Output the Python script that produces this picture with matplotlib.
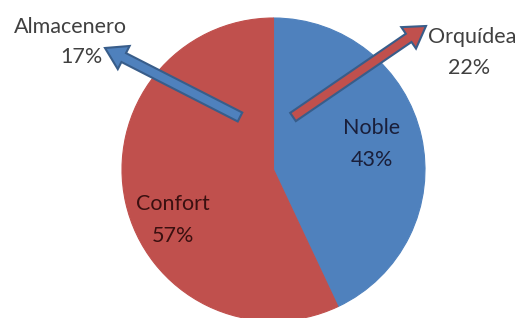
import matplotlib.pyplot as plt
from matplotlib.patches import FancyArrow

# data
labels = ['Noble', 'Confort']
values = [43, 57]
colors = ['#4F81BD', '#C0504D']
extra_labels = ['Almacenero', 'Orquídea']
extra_values = [17, 22]
extra_colors = ['#4F81BD', '#C0504D']

plt.rcParams['font.family'] = ['Lato', 'DejaVu Sans']

W, H = 521, 318
fig = plt.figure(figsize=(W / 100, H / 100), dpi=100)
ax = fig.add_axes([0, 0, 1, 1])

cx, cy, r = 273.5, H - 169.5, 151.5
wedges, _ = ax.pie(values, colors=colors, startangle=90, counterclock=False,
                   center=(cx, cy), radius=r, frame=True)
for w, c in zip(wedges, colors):
    w.set_edgecolor(c)
    w.set_linewidth(0.8)
ax.set_xlim(0, W)
ax.set_ylim(0, H)
ax.set_aspect('equal')
ax.axis('off')

fs = 15.5
# slice labels
ax.text(372, H - 128, labels[0], ha='center', va='center', fontsize=fs, color='#1a1f3a')
ax.text(372, H - 160, '%d%%' % values[0], ha='center', va='center', fontsize=fs, color='#1a1f3a')
ax.text(173, H - 204, labels[1], ha='center', va='center', fontsize=fs, color='#3a1010')
ax.text(173, H - 236, '%d%%' % values[1], ha='center', va='center', fontsize=fs, color='#3a1010')

# arrows pointing to the outside labels
arrows = [((240, 117), (105, 48)), ((293, 117), (426, 26))]
for (t, h), col in zip(arrows, extra_colors):
    x0, y0 = t[0], H - t[1]
    x1, y1 = h[0], H - h[1]
    a = FancyArrow(x0, y0, x1 - x0, y1 - y0, width=10, head_width=26, head_length=21,
                   length_includes_head=True, facecolor=col, edgecolor='#385D8A', linewidth=1.5)
    ax.add_patch(a)

ax.text(70, H - 27, extra_labels[0], ha='center', va='center', fontsize=fs, color='#404040')
ax.text(81, H - 57, '%d%%' % extra_values[0], ha='center', va='center', fontsize=fs, color='#404040')
ax.text(472, H - 37, extra_labels[1], ha='center', va='center', fontsize=fs, color='#404040')
ax.text(469, H - 68, '%d%%' % extra_values[1], ha='center', va='center', fontsize=fs, color='#404040')

plt.savefig('out.png', dpi=100)
